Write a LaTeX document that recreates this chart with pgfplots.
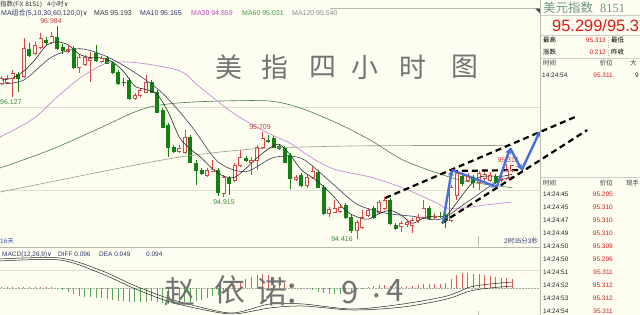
\documentclass[border=0pt]{standalone}
\usepackage{fontspec}
\setmainfont{Liberation Sans}
\newfontfamily\cjk{Noto Sans CJK SC}
\newfontfamily\serifA{Liberation Serif}
\newfontfamily\dv{DejaVu Sans}
\usepackage{pgfplots}
\pgfplotsset{compat=1.18}
\usetikzlibrary{arrows.meta}

\definecolor{bgc}{RGB}{253,253,240}
\definecolor{upc}{RGB}{214,72,72}
\definecolor{dnc}{RGB}{20,128,20}
\definecolor{ma5c}{RGB}{40,40,40}
\definecolor{ma10c}{RGB}{60,60,100}
\definecolor{ma30c}{RGB}{200,140,215}
\definecolor{ma60c}{RGB}{70,125,80}
\definecolor{ma120c}{RGB}{155,155,140}
\definecolor{gridc}{RGB}{222,222,210}
\definecolor{linec}{RGB}{185,185,175}
\definecolor{labred}{RGB}{200,60,60}
\definecolor{labgreen}{RGB}{60,140,60}
\definecolor{barred}{RGB}{215,95,95}
\definecolor{bargreen}{RGB}{90,165,90}
\definecolor{navyc}{RGB}{45,58,110}
\definecolor{bluez}{RGB}{74,111,216}
\definecolor{hand}{RGB}{115,115,115}
\definecolor{titlec}{RGB}{110,150,135}
\definecolor{pricered}{RGB}{225,25,25}
\definecolor{ma30t}{RGB}{195,70,195}
\definecolor{ma60t}{RGB}{60,155,60}
\definecolor{dayc}{RGB}{50,80,160}

% candle: index, open, high, low, close
\newcommand{\candleUp}[5]{%
 \addplot[upc, line width=0.7bp] coordinates {(#1,#4)(#1,#3)};
 \addplot[upc, line width=4bp, line cap=butt] coordinates {(#1,#2)(#1,#5)};
 \addplot[bgc, line width=2.6bp, line cap=butt, mark=-, mark size=2bp, mark options={draw=upc, line width=0.7bp, solid}] coordinates {(#1,#2)(#1,#5)};
}
\newcommand{\candleDn}[5]{%
 \addplot[dnc, line width=0.7bp] coordinates {(#1,#4)(#1,#3)};
 \addplot[dnc, line width=4bp, line cap=butt, mark=-, mark size=2bp, mark options={draw=dnc, line width=0.7bp, solid}] coordinates {(#1,#2)(#1,#5)};
}
% MACD bar: index, value
\newcommand{\rb}[2]{\addplot[barred, line width=0.9bp] coordinates {(#1,0)(#1,#2)};}
\newcommand{\gb}[2]{\addplot[bargreen, line width=0.9bp] coordinates {(#1,0)(#1,#2)};}

\tikzset{tw/.style={inner sep=0pt, anchor=west}, te/.style={inner sep=0pt, anchor=east}}

\begin{document}
\begin{tikzpicture}[font=\fontsize{7}{8}\selectfont]
\useasboundingbox (0,0) rectangle (640bp,-315bp);
\fill[bgc] (0,0) rectangle (640bp,-315bp);
\begin{scope}
\clip (0,0) rectangle (640bp,-315bp);

% ---------------- main price panel ----------------
\begin{axis}[at={(0bp,-18bp)}, anchor=north west, width=540bp, height=229bp, scale only axis,
  xmin=-0.306, xmax=96.99, ymin=94.315, ymax=97.081,
  axis line style={draw=none}, xtick=\empty, ytick={95,96}, yticklabels={},
  major tick length=0, ymajorgrids, grid style={gridc, line width=0.6bp},
  clip=false]
\candleUp{0}{96.296}{96.380}{96.271}{96.356}
\candleUp{1}{96.308}{96.392}{96.284}{96.356}
\candleUp{2}{96.356}{96.453}{96.127}{96.416}
\candleDn{3}{96.404}{96.428}{96.187}{96.356}
\candleUp{4}{96.380}{96.839}{96.356}{96.718}
\candleDn{5}{96.706}{96.779}{96.610}{96.634}
\candleUp{6}{96.658}{96.791}{96.634}{96.755}
\candleUp{7}{96.730}{96.899}{96.706}{96.839}
\candleDn{8}{96.815}{96.851}{96.755}{96.791}
\candleUp{9}{96.791}{96.912}{96.767}{96.863}
\candleDn{10}{96.851}{96.984}{96.694}{96.718}
\candleDn{11}{96.730}{96.767}{96.646}{96.694}
\candleUp{12}{96.682}{96.755}{96.658}{96.706}
\candleDn{13}{96.718}{96.742}{96.465}{96.489}
\candleUp{14}{96.489}{96.646}{96.416}{96.610}
\candleUp{15}{96.525}{96.634}{96.501}{96.610}
\candleUp{16}{96.573}{96.670}{96.308}{96.598}
\candleDn{17}{96.658}{96.755}{96.549}{96.573}
\candleUp{18}{96.561}{96.622}{96.537}{96.598}
\candleDn{19}{96.598}{96.622}{96.525}{96.537}
\candleDn{20}{96.537}{96.561}{96.404}{96.428}
\candleDn{21}{96.428}{96.453}{96.271}{96.296}
\candleDn{22}{96.308}{96.356}{96.259}{96.300}
\candleDn{23}{96.332}{96.356}{96.090}{96.114}
\candleUp{24}{96.114}{96.175}{96.090}{96.151}
\candleUp{25}{96.151}{96.235}{96.127}{96.211}
\candleUp{26}{96.187}{96.392}{96.175}{96.308}
\candleDn{27}{96.308}{96.332}{96.175}{96.187}
\candleDn{28}{96.187}{96.211}{95.933}{95.945}
\candleDn{29}{95.970}{95.994}{95.752}{95.764}
\candleDn{30}{95.788}{95.813}{95.402}{95.523}
\candleDn{31}{95.523}{95.547}{95.450}{95.474}
\candleUp{32}{95.474}{95.547}{95.450}{95.511}
\candleUp{33}{95.462}{95.728}{95.438}{95.643}
\candleDn{34}{95.643}{95.668}{95.329}{95.342}
\candleDn{35}{95.329}{95.366}{95.064}{95.245}
\candleDn{36}{95.245}{95.269}{95.185}{95.209}
\candleUp{37}{95.185}{95.269}{95.160}{95.245}
\candleUp{38}{95.233}{95.366}{95.221}{95.257}
\candleDn{39}{95.245}{95.269}{94.931}{94.979}
\candleUp{40}{94.967}{95.185}{94.915}{95.160}
\candleDn{41}{95.148}{95.172}{94.943}{95.088}
\candleUp{42}{95.124}{95.329}{95.100}{95.305}
\candleUp{43}{95.305}{95.486}{95.281}{95.402}
\candleDn{44}{95.390}{95.414}{95.342}{95.366}
\candleUp{45}{95.342}{95.402}{95.185}{95.366}
\candleUp{46}{95.366}{95.547}{95.245}{95.523}
\candleUp{47}{95.523}{95.709}{95.499}{95.631}
\candleDn{48}{95.607}{95.668}{95.571}{95.595}
\candleDn{49}{95.631}{95.655}{95.511}{95.523}
\candleDn{50}{95.535}{95.559}{95.486}{95.511}
\candleDn{51}{95.511}{95.535}{95.329}{95.342}
\candleDn{52}{95.426}{95.450}{95.015}{95.150}
\candleUp{53}{95.136}{95.185}{95.112}{95.160}
\candleDn{54}{95.185}{95.209}{95.040}{95.064}
\candleUp{55}{95.064}{95.185}{95.028}{95.160}
\candleUp{56}{95.160}{95.293}{95.136}{95.233}
\candleDn{57}{95.221}{95.245}{95.028}{95.040}
\candleDn{58}{95.040}{95.064}{94.701}{94.726}
\candleUp{59}{94.726}{94.798}{94.677}{94.774}
\candleUp{60}{94.738}{94.883}{94.726}{94.786}
\candleUp{61}{94.750}{94.822}{94.726}{94.798}
\candleDn{62}{94.822}{94.846}{94.653}{94.677}
\candleDn{63}{94.677}{94.701}{94.484}{94.520}
\candleUp{64}{94.520}{94.641}{94.416}{94.617}
\candleUp{65}{94.557}{94.762}{94.532}{94.677}
\candleUp{66}{94.701}{94.786}{94.677}{94.762}
\candleDn{67}{94.786}{94.810}{94.653}{94.677}
\candleUp{68}{94.738}{94.883}{94.713}{94.858}
\candleUp{69}{94.786}{94.919}{94.762}{94.883}
\candleDn{70}{94.883}{94.907}{94.581}{94.605}
\candleDn{71}{94.581}{94.605}{94.520}{94.544}
\candleUp{72}{94.569}{94.629}{94.496}{94.605}
\candleUp{73}{94.593}{94.641}{94.557}{94.617}
\candleUp{74}{94.581}{94.665}{94.484}{94.641}
\candleUp{75}{94.641}{94.713}{94.605}{94.677}
\candleUp{76}{94.677}{94.883}{94.653}{94.786}
\candleDn{77}{94.786}{94.810}{94.641}{94.665}
\candleUp{78}{94.677}{94.725}{94.653}{94.680}
\candleDn{79}{94.689}{94.737}{94.665}{94.686}
\candleDn{80}{94.701}{94.725}{94.544}{94.641}
\candleUp{81}{94.641}{95.064}{94.617}{95.040}
\candleUp{82}{94.943}{95.245}{94.883}{95.209}
\candleDn{83}{95.172}{95.197}{95.052}{95.088}
\candleUp{84}{95.124}{95.209}{95.100}{95.172}
\candleDn{85}{95.160}{95.185}{95.028}{95.100}
\candleUp{86}{95.100}{95.233}{95.003}{95.209}
\candleUp{87}{95.148}{95.233}{95.112}{95.197}
\candleUp{88}{95.124}{95.221}{95.100}{95.185}
\candleDn{89}{95.172}{95.197}{95.076}{95.100}
\candleUp{90}{95.124}{95.185}{95.100}{95.150}
\candleUp{91}{95.148}{95.313}{95.124}{95.245}
\candleUp{92}{95.240}{95.305}{95.215}{95.299}
% moving averages
\addplot[ma120c, line width=0.6bp, smooth] coordinates {(-0.3,94.979)(10.5,95.124)(21.3,95.269)(32.1,95.402)(41.1,95.474)(48.3,95.511)(62.8,95.535)(77.2,95.541)(92,95.540)};
\addplot[ma60c, line width=0.6bp, smooth] coordinates {(-0.3,95.269)(8.7,95.486)(17.7,95.752)(23.1,95.921)(26.7,96.006)(31.6,96.054)(39.3,96.078)(48.3,96.078)(53.8,95.994)(60.4,95.812)(66.4,95.607)(72.3,95.366)(79.5,95.185)(84.4,95.100)(92,95.031)};
\addplot[ma30c, line width=0.7bp, smooth] coordinates {(-0.3,95.644)(5.6,95.860)(10,96.127)(14.1,96.356)(17.7,96.501)(19.9,96.549)(24.9,96.537)(32.1,96.441)(35.7,96.247)(41.7,95.933)(46,95.764)(48.3,95.680)(51.9,95.571)(54.3,95.462)(56.8,95.354)(60.4,95.245)(66.4,95.160)(72.3,95.028)(78.4,94.846)(79.9,94.786)(83.1,94.786)(87.1,94.822)(92,94.859)};
\addplot[ma10c, line width=0.6bp, smooth] coordinates {(0,96.284)(4,96.332)(9,96.608)(14,96.710)(19,96.613)(24,96.421)(29,96.171)(34,95.791)(39,95.343)(44,95.226)(49,95.396)(54,95.386)(59,95.116)(64,94.833)(69,94.726)(74,94.687)(79,94.651)(84,94.864)(89,95.094)(92,95.165)};
\addplot[ma5c, line width=0.6bp, smooth] coordinates {(0,96.332)(2,96.356)(4,96.441)(6,96.576)(8,96.747)(10,96.793)(12,96.755)(14,96.643)(16,96.602)(18,96.598)(20,96.547)(22,96.432)(24,96.258)(26,96.217)(28,96.160)(30,95.945)(32,95.643)(34,95.499)(36,95.390)(38,95.259)(40,95.170)(42,95.158)(44,95.264)(46,95.392)(48,95.496)(50,95.557)(52,95.424)(54,95.245)(56,95.153)(58,95.044)(60,94.912)(62,94.752)(64,94.680)(66,94.651)(68,94.718)(70,94.757)(72,94.699)(74,94.602)(76,94.665)(78,94.689)(80,94.692)(82,94.851)(84,95.030)(86,95.156)(88,95.172)(90,95.168)(92,95.193)};
\node[tw, text=labred] at (axis cs:89.3,95.36) {95.313};
% channel (dashed) lines
\addplot[black, line width=2.2bp, dash pattern=on 6bp off 4bp] coordinates {(69.1,94.907)(103.3,95.885)};
\addplot[black, line width=2.2bp, dash pattern=on 6bp off 4bp] coordinates {(79.3,94.605)(105.5,95.728)};
\addplot[black, line width=2.2bp, dash pattern=on 6bp off 4bp] coordinates {(81.1,95.233)(93.9,95.245)};
% blue zig-zag
\addplot[bluez, line width=2.4bp, -{Stealth[length=6bp,width=6bp]}] coordinates {(79.5,94.605)(81.1,95.245)};
\addplot[bluez, line width=2.4bp, -{Stealth[length=6bp,width=6bp]}] coordinates {(81.1,95.245)(89.2,95.040)};
\addplot[bluez, line width=2.4bp, -{Stealth[length=6bp,width=6bp]}] coordinates {(89.2,95.040)(91.6,95.511)};
\addplot[bluez, line width=2.4bp, -{Stealth[length=6bp,width=6bp]}] coordinates {(91.6,95.511)(93.7,95.245)};
\addplot[bluez, line width=2.4bp, -{Stealth[length=6bp,width=6bp]}] coordinates {(93.7,95.245)(97.0,95.716)};
\end{axis}

% ---------------- MACD panel ----------------
\begin{axis}[at={(0bp,-248bp)}, anchor=north west, width=540bp, height=67bp, scale only axis,
  xmin=-0.306, xmax=96.99, ymin=-0.27, ymax=0.40,
  axis line style={draw=none}, xtick=\empty, ytick={0}, yticklabels={},
  major tick length=0, ymajorgrids,
  grid style={black!35, dash pattern=on 1.5bp off 1.5bp, line width=0.5bp},
  extra y ticks={0.18}, extra y tick labels={}, extra y tick style={grid style={gridc, solid, line width=0.5bp}},
  clip=false]
\rb{0}{0.012}\rb{1}{0.01}\rb{2}{0.008}\rb{3}{0.01}\rb{4}{0.012}\rb{5}{0.01}\rb{6}{0.012}\rb{7}{0.01}\rb{8}{0.012}\rb{9}{0.01}
\gb{10}{-0.01}\gb{11}{-0.02}\gb{12}{-0.04}\gb{13}{-0.06}\gb{14}{-0.08}\gb{15}{-0.09}\gb{16}{-0.09}\gb{17}{-0.10}\gb{18}{-0.10}\gb{19}{-0.11}
\gb{20}{-0.12}\gb{21}{-0.13}\gb{22}{-0.13}\gb{23}{-0.14}\gb{24}{-0.14}\gb{25}{-0.14}\gb{26}{-0.14}\gb{27}{-0.13}\gb{28}{-0.14}\gb{29}{-0.15}
\gb{30}{-0.16}\gb{31}{-0.16}\gb{32}{-0.15}\gb{33}{-0.14}\gb{34}{-0.14}\gb{35}{-0.13}\gb{36}{-0.12}\gb{37}{-0.10}\gb{38}{-0.08}\gb{39}{-0.07}
\gb{40}{-0.04}\gb{41}{-0.01}
\rb{42}{0.03}\rb{43}{0.06}\rb{44}{0.09}\rb{45}{0.11}\rb{46}{0.13}\rb{47}{0.14}\rb{48}{0.13}\rb{49}{0.11}\rb{50}{0.08}\rb{51}{0.05}\rb{52}{0.02}
\gb{53}{-0.005}\gb{54}{-0.01}\gb{55}{-0.01}\gb{56}{-0.02}\gb{57}{-0.04}\gb{58}{-0.05}\gb{59}{-0.06}\gb{60}{-0.06}\gb{61}{-0.06}\gb{62}{-0.05}\gb{63}{-0.05}\gb{64}{-0.02}\gb{65}{-0.01}
\rb{66}{0.01}\rb{67}{0.02}\rb{68}{0.03}\rb{69}{0.03}\rb{70}{0.02}\rb{71}{0.015}\rb{72}{0.015}\rb{73}{0.02}\rb{74}{0.025}\rb{75}{0.03}\rb{76}{0.04}\rb{77}{0.04}\rb{78}{0.04}\rb{79}{0.045}\rb{80}{0.05}
\rb{81}{0.09}\rb{82}{0.13}\rb{83}{0.15}\rb{84}{0.15}\rb{85}{0.14}\rb{86}{0.14}\rb{87}{0.13}\rb{88}{0.12}\rb{89}{0.11}\rb{90}{0.10}\rb{91}{0.10}\rb{92}{0.094}
\addplot[ma5c, line width=0.5bp, smooth] coordinates {(-0.3,0.29)(10.5,0.30)(17.7,0.18)(23.7,0.03)(29.8,-0.10)(35.7,-0.19)(41.7,-0.25)(48.3,-0.16)(54.3,-0.16)(63.3,-0.21)(72.3,-0.16)(80.2,-0.08)(84.4,0.01)(88,0.04)(92,0.06)};
\addplot[ma5c, line width=0.5bp, smooth] coordinates {(-0.3,0.27)(10.5,0.28)(17.7,0.15)(23.7,0.00)(29.8,-0.13)(35.7,-0.21)(41.7,-0.26)(48.3,-0.20)(54.3,-0.18)(63.3,-0.22)(72.3,-0.19)(80.2,-0.11)(84.4,-0.03)(88,0.0)(92,0.02)};
\end{axis}

\begin{scope}[x=1bp,y=-1bp]
% ---------------- frame lines ----------------
\draw[linec, line width=0.6bp] (330,8.5) -- (540,8.5);
\fill[black!70] (535,8.5) -- (540,8.5) -- (540,13.5) -- cycle;
\draw[linec, line width=0.6bp] (0,247.5) -- (540,247.5);
\draw[linec, line width=0.6bp] (478,236) -- (478,246);
\draw[linec, line width=0.6bp] (478,311) -- (478,315);
\draw[linec, line width=0.7bp] (540.5,0) -- (540.5,315);
\draw[linec!70, line width=0.6bp] (541,15.5) -- (640,15.5);
\draw[linec!70, line width=0.6bp] (541,35.5) -- (640,35.5);
\draw[linec!70, line width=0.6bp] (541,58.5) -- (640,58.5);
\draw[linec!70, line width=0.6bp] (541,177.5) -- (640,177.5);
\draw[linec, dotted, line width=0.6bp] (608,37) -- (608,57);

% ---------------- header texts ----------------
\node[tw, font=\fontsize{6.5}{7}\selectfont, text=black!80] at (0,4) {{\cjk 指数}(FX 8151)};
\node[tw, font=\fontsize{6.5}{7}\selectfont, text=black!80] at (47,4) {4{\cjk 小时}{\dv ∨}};
\node[tw, text=navyc] at (1,13.5) {MA{\cjk 组合}(5,10,30,60,120,0){\dv ∨}};
\node[tw, text=black!80] at (94,13.5) {MA5 95.193};
\node[tw, text=navyc] at (140,13.5) {MA10 95.165};
\node[tw, text=ma30t] at (191,13.5) {MA30 94.859};
\node[tw, text=ma60t] at (242,13.5) {MA60 95.031};
\node[tw, text=black!45] at (292,13.5) {MA120 95.540};

% price labels
\node[inner sep=0pt, text=labred] at (51,21.5) {96.984};
\node[tw, text=labgreen] at (0,102) {96.127};
\node[inner sep=0pt, text=labred] at (260,127) {95.709};
\node[inner sep=0pt, text=labgreen] at (224,202) {94.915};
\node[inner sep=0pt, text=labgreen] at (342,239.5) {94.416};

% bottom time row
\node[tw, font=\fontsize{6.5}{7}\selectfont, text=dayc] at (0,241) {16{\cjk 天}};
\node[tw, font=\fontsize{6.5}{7}\selectfont, text=navyc] at (504,241) {2{\cjk 时}35{\cjk 分}3{\cjk 秒}};

% MACD header
\node[tw, font=\fontsize{6.5}{7}\selectfont, text=navyc] at (2,254.5) {MACD(12,26,9){\dv ∨}};
\node[tw, font=\fontsize{6.5}{7}\selectfont, text=navyc] at (58,254.5) {DIFF 0.096};
\node[tw, font=\fontsize{6.5}{7}\selectfont, text=navyc] at (99,254.5) {DEA 0.049};
\node[tw, font=\fontsize{6.5}{7}\selectfont, text=navyc] at (146,254.5) {0.094};

% handwritten titles
\node[inner sep=0pt, font=\cjk\fontsize{27}{27}\selectfont, text=hand] at (229,67) {美};
\node[inner sep=0pt, font=\cjk\fontsize{27}{27}\selectfont, text=hand] at (275,67) {指};
\node[inner sep=0pt, font=\cjk\fontsize{27}{27}\selectfont, text=hand] at (323,67) {四};
\node[inner sep=0pt, font=\cjk\fontsize{27}{27}\selectfont, text=hand] at (365,67) {小};
\node[inner sep=0pt, font=\cjk\fontsize{27}{27}\selectfont, text=hand] at (413,67) {时};
\node[inner sep=0pt, font=\cjk\fontsize{27}{27}\selectfont, text=hand] at (465,67) {图};
\node[inner sep=0pt, font=\cjk\fontsize{31}{31}\selectfont, text=hand] at (180,292) {赵};
\node[inner sep=0pt, font=\cjk\fontsize{31}{31}\selectfont, text=hand] at (230,290) {依};
\node[inner sep=0pt, font=\cjk\fontsize{31}{31}\selectfont, text=hand] at (272,292) {诺};
\node[inner sep=0pt, font=\cjk\fontsize{31}{31}\selectfont, text=hand] at (300,294) {：};
\node[inner sep=0pt, font=\cjk\fontsize{31}{31}\selectfont, text=hand] at (350,292) {9};
\node[inner sep=0pt, font=\cjk\fontsize{31}{31}\selectfont, text=hand] at (377,296) {.};
\node[inner sep=0pt, font=\cjk\fontsize{31}{31}\selectfont, text=hand] at (395,290) {4};

% ---------------- right panel ----------------
\node[tw, font=\cjk\fontsize{12.5}{13}\selectfont, text=titlec] at (543,8) {美元指数};
\node[tw, font=\serifA\fontsize{12.5}{13}\selectfont, text=titlec] at (600,8.5) {8151};
\node[tw, font=\fontsize{16.5}{17}\selectfont, text=pricered] at (552,26) {95.299/95.3};
\node[tw, font=\cjk\fontsize{6.5}{7}\selectfont] at (543,40) {最高};
\node[te, font=\fontsize{6.5}{7}\selectfont, text=pricered] at (606,40) {95.313};
\node[tw, font=\cjk\fontsize{6.5}{7}\selectfont] at (611,40) {最低};
\node[tw, font=\cjk\fontsize{6.5}{7}\selectfont] at (543,52) {涨跌};
\node[te, font=\fontsize{6.5}{7}\selectfont, text=pricered] at (606,52) {0.212};
\node[tw, font=\cjk\fontsize{6.5}{7}\selectfont] at (611,52) {昨收};
\node[tw, font=\cjk\fontsize{6.5}{7}\selectfont, text=black!80] at (543,63.5) {时间};
\node[te, font=\cjk\fontsize{6.5}{7}\selectfont, text=black!80] at (613,63.5) {价位};
\node[tw, font=\cjk\fontsize{6.5}{7}\selectfont, text=black!80] at (630,63.5) {大};
\node[tw, font=\fontsize{6.5}{7}\selectfont, text=black!85] at (542,75) {14:24:54};
\node[te, font=\fontsize{6.5}{7}\selectfont, text=pricered] at (613,75) {95.311};
\node[tw, font=\fontsize{6.5}{7}\selectfont, text=black!85] at (635,75) {9};
\node[tw, font=\cjk\fontsize{6.5}{7}\selectfont, text=black!80] at (543,183) {时间};
\node[te, font=\cjk\fontsize{6.5}{7}\selectfont, text=black!80] at (613,183) {价位};
\node[tw, font=\cjk\fontsize{6.5}{7}\selectfont, text=black!80] at (626,183) {现手};
\node[tw, font=\fontsize{6.5}{7}\selectfont, text=black!85] at (543,194.5) {14:24:45};
\node[te, font=\fontsize{6.5}{7}\selectfont, text=pricered] at (613,194.5) {95.295};
\node[tw, font=\fontsize{6.5}{7}\selectfont, text=black!85] at (543,207.5) {14:24:45};
\node[te, font=\fontsize{6.5}{7}\selectfont, text=pricered] at (613,207.5) {95.310};
\node[tw, font=\fontsize{6.5}{7}\selectfont, text=black!85] at (543,220.5) {14:24:47};
\node[te, font=\fontsize{6.5}{7}\selectfont, text=pricered] at (613,220.5) {95.310};
\node[tw, font=\fontsize{6.5}{7}\selectfont, text=black!85] at (543,233.5) {14:24:49};
\node[te, font=\fontsize{6.5}{7}\selectfont, text=pricered] at (613,233.5) {95.310};
\node[tw, font=\fontsize{6.5}{7}\selectfont, text=black!85] at (543,246.5) {14:24:50};
\node[te, font=\fontsize{6.5}{7}\selectfont, text=pricered] at (613,246.5) {95.309};
\node[tw, font=\fontsize{6.5}{7}\selectfont, text=black!85] at (543,259.5) {14:24:50};
\node[te, font=\fontsize{6.5}{7}\selectfont, text=pricered] at (613,259.5) {95.296};
\node[tw, font=\fontsize{6.5}{7}\selectfont, text=black!85] at (543,272.5) {14:24:51};
\node[te, font=\fontsize{6.5}{7}\selectfont, text=pricered] at (613,272.5) {95.311};
\node[tw, font=\fontsize{6.5}{7}\selectfont, text=black!85] at (543,285.5) {14:24:52};
\node[te, font=\fontsize{6.5}{7}\selectfont, text=pricered] at (613,285.5) {95.312};
\node[tw, font=\fontsize{6.5}{7}\selectfont, text=black!85] at (543,298.5) {14:24:53};
\node[te, font=\fontsize{6.5}{7}\selectfont, text=pricered] at (613,298.5) {95.312};
\node[tw, font=\fontsize{6.5}{7}\selectfont, text=black!85] at (543,311) {14:24:54};
\node[te, font=\fontsize{6.5}{7}\selectfont, text=pricered] at (613,311) {95.311};
\end{scope}
\end{scope}
\end{tikzpicture}
\end{document}
